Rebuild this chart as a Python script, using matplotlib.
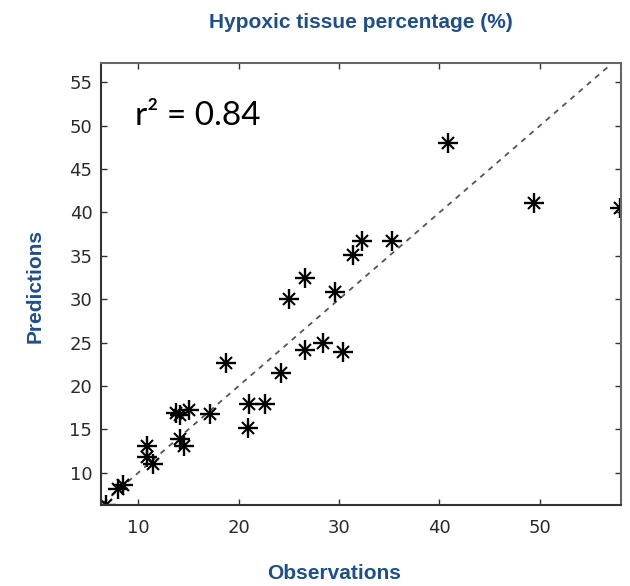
import matplotlib
matplotlib.use('Agg')
import matplotlib.pyplot as plt
import numpy as np

# Valores (observaciones vs predicciones)
observaciones = [6.8, 8.0, 8.5, 10.9, 10.9, 11.5, 13.8, 14.2, 15.0, 14.2, 14.6, 17.1,
                 18.7, 20.9, 21.0, 22.6, 24.2, 25.0, 26.6, 26.6, 28.4, 29.6, 30.4,
                 31.4, 32.3, 35.3, 40.8, 49.4, 58.0]
predicciones = [6.3, 8.1, 8.6, 13.1, 11.8, 11.0, 16.9, 16.6, 17.2, 13.9, 13.1, 16.8,
                22.6, 15.2, 17.9, 17.9, 21.5, 30.0, 32.4, 24.2, 25.0, 30.8, 23.9,
                35.1, 36.7, 36.7, 48.0, 41.1, 40.5]
linea_ref = [6.5, 57.0]
xticks = [10, 20, 30, 40, 50]
yticks = [10, 15, 20, 25, 30, 35, 40, 45, 50, 55]

azul = '#1f4f8b'

fig = plt.figure(figsize=(6.3, 5.86), dpi=100)
ax = fig.add_axes([0.1598, 0.1382, 0.8254, 0.7538])

# linea de identidad discontinua
ax.plot(linea_ref, linea_ref, linestyle=(0, (3, 3)), color='#555555', linewidth=1.3)

# marcador tipo asterisco (como en MATLAB): + largo y x corta
ax.plot(observaciones, predicciones, linestyle='none', marker='+', markersize=14,
        markeredgewidth=1.7, color='black')
ax.plot(observaciones, predicciones, linestyle='none', marker='x', markersize=8,
        markeredgewidth=1.5, color='black')

ax.set_xlim(6.25, 58.05)
ax.set_ylim(6.27, 57.2)
ax.set_xticks(xticks)
ax.set_yticks(yticks)
ax.tick_params(direction='in', length=4, width=1.0, top=True, right=True,
               labelsize=13, labelcolor='#2a2a2a', color='#333333', pad=6)
ax.tick_params(axis='x', pad=10)
for lab in ax.get_xticklabels() + ax.get_yticklabels():
    lab.set_family('DejaVu Sans')
for lado in ['left', 'bottom']:
    ax.spines[lado].set_linewidth(1.5)
    ax.spines[lado].set_color('#333333')
for lado in ['top', 'right']:
    ax.spines[lado].set_linewidth(1.5)
    ax.spines[lado].set_color('#666666')

ax.text(0.066, 0.86, 'r² = 0.84', transform=ax.transAxes, fontsize=24,
        family='Lato', va='baseline', ha='left', color='black')

fig.text(0.573, 0.962, 'Hypoxic tissue percentage (%)', ha='center', va='center',
         fontsize=15, fontweight='bold', color=azul, family='Liberation Sans')
fig.text(0.530, 0.022, 'Observations', ha='center', va='center',
         fontsize=15, fontweight='bold', color=azul, family='Liberation Sans')
fig.text(0.056, 0.512, 'Predictions', ha='center', va='center', rotation=90,
         fontsize=15, fontweight='bold', color=azul, family='Liberation Sans')

fig.savefig('out.png', dpi=100)
